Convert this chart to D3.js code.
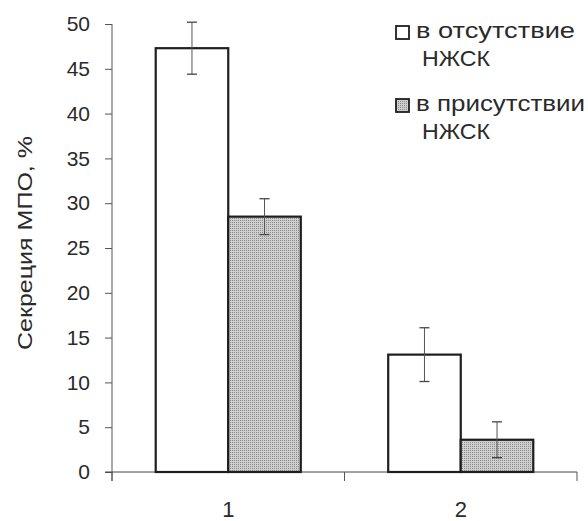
<!DOCTYPE html>
<html>
<head>
<meta charset="utf-8">
<script src="https://cdn.jsdelivr.net/npm/d3@7"></script>
<style>
  body { margin: 0; background: #fff; }
  text { font-family: "Liberation Sans", Arial, sans-serif; fill: #2a2a2a; }
</style>
</head>
<body>
<div id="container"></div>
<script>
var categories = ["1", "2"];
var seriesNames = ["в отсутствие", "в присутствии"];
var seriesSuffix = "НЖСК";
var withoutValues = [47.3, 13.1];
var withoutErrors = [2.9, 3.0];
var withValues = [28.5, 3.6];
var withErrors = [2.0, 2.0];
var yTicks = [0, 5, 10, 15, 20, 25, 30, 35, 40, 45, 50];

var width = 588, height = 521;
var mLeft = 112, mRight = 577, mTop = 24, mBottom = 472;

var svg = d3.select("#container").append("svg")
    .attr("width", width)
    .attr("height", height)

// halftone-ish grey like the scanned original
var pat = svg.append("defs").append("pattern")
    .attr("id", "dots")
    .attr("width", 2)
    .attr("height", 2)
    .attr("patternUnits", "userSpaceOnUse")
pat.append("rect").attr("width", 2).attr("height", 2).attr("fill", "#cfcfcf")
pat.append("rect").attr("width", 1).attr("height", 1).attr("fill", "#8a8a8a")

var y = d3.scaleLinear().domain([0, 50]).range([mBottom, mTop])
var x = d3.scaleBand().domain(categories).range([mLeft, mRight])
    .paddingInner(0.376).paddingOuter(0.188)
var sub = d3.scaleBand().domain([0, 1]).range([0, x.bandwidth()])

var rows = []
categories.forEach(function(c, i) {
    rows.push({cat: c, s: 0, v: withoutValues[i], e: withoutErrors[i]})
    rows.push({cat: c, s: 1, v: withValues[i], e: withErrors[i]})
})

// axes
var yAxis = d3.axisLeft(y).tickValues(yTicks).tickSize(7).tickPadding(15)
var gy = svg.append("g").attr("transform", "translate(" + mLeft + ",0)").call(yAxis)
gy.select(".domain").remove()
gy.selectAll("line").attr("stroke", "#555")
gy.selectAll("text")
    .style("font-size", "21px")
    .style("font-family", "'Liberation Sans', Arial, sans-serif")
    .attr("fill", "#2a2a2a")

svg.append("line")
    .attr("x1", mLeft).attr("x2", mLeft)
    .attr("y1", y(50)).attr("y2", mBottom + 9)
    .attr("stroke", "#555")

svg.append("line")
    .attr("x1", mLeft - 7).attr("x2", mRight)
    .attr("y1", mBottom).attr("y2", mBottom)
    .attr("stroke", "#444")

var edges = [mLeft, (mLeft + mRight) / 2, mRight]
svg.selectAll(".xtick").data(edges).enter().append("line")
    .attr("class", "xtick")
    .attr("x1", function(d) { return d }).attr("x2", function(d) { return d })
    .attr("y1", mBottom).attr("y2", mBottom + 9)
    .attr("stroke", "#555")

svg.selectAll(".xlab").data(categories).enter().append("text")
    .attr("class", "xlab")
    .attr("x", function(d) { return x(d) + x.bandwidth() / 2 })
    .attr("y", 517)
    .attr("text-anchor", "middle")
    .style("font-size", "22px")
    .text(function(d) { return d })

// bars
svg.selectAll(".bar").data(rows).enter().append("rect")
    .attr("class", "bar")
    .attr("x", function(d) { return x(d.cat) + sub(d.s) })
    .attr("y", function(d) { return y(d.v) })
    .attr("width", sub.bandwidth())
    .attr("height", function(d) { return mBottom - y(d.v) })
    .attr("fill", function(d) { return d.s ? "url(#dots)" : "#fff" })
    .attr("stroke", "#1e1e1e")
    .attr("stroke-width", 2.2)

// error bars
var eb = svg.selectAll(".err").data(rows).enter().append("g")
    .attr("class", "err")
    .attr("transform", function(d) { return "translate(" + (x(d.cat) + sub(d.s) + sub.bandwidth() / 2) + ",0)" })
eb.append("line")
    .attr("y1", function(d) { return y(d.v + d.e) })
    .attr("y2", function(d) { return y(d.v - d.e) })
    .attr("stroke", "#555")
eb.selectAll(".cap").data(function(d) { return [d.v + d.e, d.v - d.e] }).enter().append("line")
    .attr("class", "cap")
    .attr("x1", -5).attr("x2", 5)
    .attr("y1", function(d) { return y(d) }).attr("y2", function(d) { return y(d) })
    .attr("stroke", "#444")
    .attr("stroke-width", 1.3)

// y label (original type is wider than Arial, so stretch it)
svg.append("text")
    .attr("transform", "translate(32,243) rotate(-90)")
    .attr("text-anchor", "middle")
    .attr("textLength", 214)
    .attr("lengthAdjust", "spacingAndGlyphs")
    .style("font-size", "21px")
    .text("Секреция МПО, %")

// legend
var legY = [26, 99]
var legLen = [159, 169]
var leg = svg.selectAll(".leg").data(seriesNames).enter().append("g")
    .attr("class", "leg")
    .attr("transform", function(d, i) { return "translate(396," + legY[i] + ")" })
leg.append("rect")
    .attr("width", 13).attr("height", 13)
    .attr("fill", function(d, i) { return i ? "url(#dots)" : "#fff" })
    .attr("stroke", "#1e1e1e")
    .attr("stroke-width", 1.8)
leg.append("text")
    .attr("x", 20).attr("y", 12)
    .attr("textLength", function(d, i) { return legLen[i] })
    .attr("lengthAdjust", "spacingAndGlyphs")
    .style("font-size", "22px")
    .text(function(d) { return d })
leg.append("text")
    .attr("x", 26).attr("y", 40)
    .attr("textLength", 68)
    .attr("lengthAdjust", "spacingAndGlyphs")
    .style("font-size", "22px")
    .text(seriesSuffix)
</script>
</body>
</html>
